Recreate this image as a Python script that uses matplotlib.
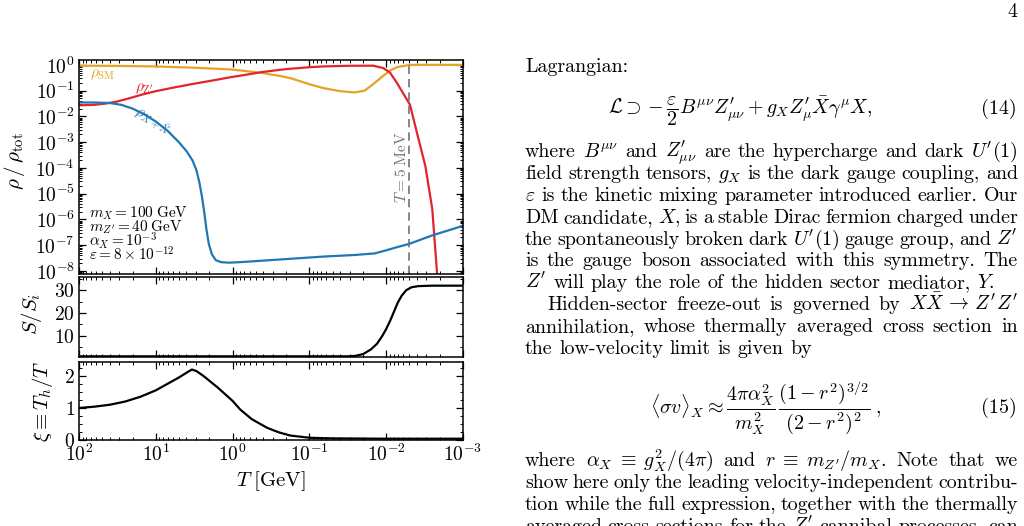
import re
import numpy as np
import matplotlib as mpl

mpl.use('agg')

import matplotlib.pyplot as plt
from matplotlib.ticker import LogLocator, FuncFormatter, MultipleLocator, NullFormatter

plt.rcParams['font.family'] = 'serif'
plt.rcParams['font.serif'] = ['cmr10']
plt.rcParams['mathtext.fontset'] = 'cm'
plt.rcParams['axes.formatter.use_mathtext'] = True
plt.rcParams['axes.unicode_minus'] = False

# ---- data (log10 T [GeV], value) ----
sm_logT  = [2.0, 1.5, 1.0, 0.5, 0.0, -0.35, -0.6, -0.75, -1.0, -1.18, -1.4, -1.59,
            -1.72, -1.83, -1.95, -2.05, -2.15, -2.31, -2.6, -3.0]
sm_logr  = [-0.03, -0.04, -0.06, -0.11, -0.18, -0.30, -0.42, -0.51, -0.75, -0.9, -1.02, -1.07,
            -1.0, -0.75, -0.45, -0.22, -0.08, 0.0, 0.0, 0.0]

zp_logT  = [2.0, 1.8, 1.65, 1.5, 1.35, 1.2, 1.0, 0.75, 0.5, 0.25, 0.03, -0.2, -0.38,
            -0.62, -0.75, -1.0, -1.18, -1.5, -1.83, -1.96, -2.05, -2.14, -2.22, -2.31,
            -2.40, -2.51, -2.60, -2.66, -2.68]
zp_logr  = [-1.57, -1.55, -1.50, -1.42, -1.30, -1.17, -1.02, -0.87, -0.73, -0.6, -0.48, -0.37, -0.28,
            -0.19, -0.15, -0.09, -0.06, -0.035, -0.03, -0.12, -0.3, -0.7, -1.1, -1.55,
            -2.63, -3.93, -5.6, -8.0, -9.0]

dm_logT  = [2.0, 1.8, 1.6, 1.45, 1.3, 1.15, 1.0, 0.85, 0.7, 0.6, 0.52, 0.47, 0.43, 0.40,
            0.37, 0.34, 0.31, 0.27, 0.22, 0.15, 0.05, -0.1, -0.4, -0.8, -1.2, -1.6,
            -1.85, -2.0, -2.15, -2.3, -2.6, -3.0]
dm_logr  = [-1.46, -1.46, -1.48, -1.55, -1.70, -1.92, -2.2, -2.55, -3.0, -3.35, -3.72, -4.1, -4.6, -5.1,
            -5.7, -6.4, -6.95, -7.35, -7.58, -7.66, -7.68, -7.66, -7.6, -7.52, -7.44, -7.38,
            -7.32, -7.2, -7.07, -6.95, -6.62, -6.25]

S_logT   = [2.0, -1.5, -1.6, -1.7, -1.8, -1.88, -1.95, -2.0, -2.05, -2.1, -2.15, -2.2,
            -2.26, -2.33, -2.42, -2.6, -3.0]
S_ratio  = [1, 1, 1.2, 2.0, 4.0, 6.5, 10, 13, 16.5, 20.5, 24.5, 27.5,
            30, 31.3, 31.8, 32, 32]

xi_logT  = [2.0, 1.8, 1.6, 1.4, 1.2, 1.0, 0.85, 0.7, 0.6, 0.53, 0.47, 0.38, 0.2, 0.0,
            -0.1, -0.25, -0.45, -0.6, -0.75, -1.0, -1.3, -2.0, -3.0]
xi_val   = [1.0, 1.04, 1.1, 1.2, 1.35, 1.55, 1.75, 1.95, 2.1, 2.2, 2.15, 2.0, 1.65, 1.22,
            0.95, 0.65, 0.38, 0.24, 0.14, 0.07, 0.05, 0.04, 0.04]

T_line = 5e-3  # 5 MeV

c_sm, c_zp, c_dm = '#e5a322', '#e0252b', '#1f77b4'

W, H = 1024, 526
fig = plt.figure(figsize=(W / 100, H / 100), dpi=100)


def box(l, t, r, b):
    return [l / W, 1 - b / H, (r - l) / W, (b - t) / H]


ax1 = fig.add_axes(box(79, 60, 463, 274))
ax2 = fig.add_axes(box(79, 277, 463, 357), sharex=ax1)
ax3 = fig.add_axes(box(79, 361.5, 463, 440), sharex=ax1)

T = lambda a: 10.0 ** np.array(a)

ax1.plot(T(sm_logT), T(sm_logr), color=c_sm, lw=1.6)
ax1.plot(T(zp_logT), T(zp_logr), color=c_zp, lw=1.6)
ax1.plot(T(dm_logT), T(dm_logr), color=c_dm, lw=1.6)
ax1.axvline(T_line, color='0.45', lw=1.2, ls=(0, (5, 3)))
ax1.set_yscale('log')
ax1.set_xscale('log')
ax1.set_xlim(1e2, 1e-3)
ax1.set_ylim(10 ** -8.12, 10 ** 0.19)

ax2.plot(T(S_logT), S_ratio, color='k', lw=1.6)
ax2.set_ylim(0.7, 35.8)

ax3.plot(T(xi_logT), xi_val, color='k', lw=1.6)
ax3.set_ylim(0, 2.45)

TICK_FS = 14
decfmt = FuncFormatter(lambda v, p: r'$10^{%d}$' % round(np.log10(v)))
for ax in (ax1, ax2, ax3):
    ax.tick_params(which='both', direction='in', top=True, right=True, labelsize=TICK_FS, pad=3)
    ax.tick_params(which='major', length=5, width=0.9)
    ax.tick_params(which='minor', length=2.5, width=0.7)
    ax.xaxis.set_major_locator(LogLocator(base=10, numticks=20))
    ax.xaxis.set_minor_locator(LogLocator(base=10, subs=np.arange(2, 10), numticks=100))
    for s in ax.spines.values():
        s.set_linewidth(1.1)
    if ax is not ax3:
        ax.tick_params(labelbottom=False)
ax3.xaxis.set_major_formatter(decfmt)
ax1.yaxis.set_major_locator(LogLocator(base=10, numticks=20))
ax1.yaxis.set_minor_locator(LogLocator(base=10, subs=np.arange(2, 10), numticks=100))
ax1.yaxis.set_major_formatter(decfmt)
ax1.yaxis.set_minor_formatter(NullFormatter())
ax2.yaxis.set_major_locator(MultipleLocator(10))
ax2.yaxis.set_minor_locator(MultipleLocator(5))
ax3.yaxis.set_major_locator(MultipleLocator(1))
ax3.yaxis.set_minor_locator(MultipleLocator(0.25))

LAB_FS = 15
ax1.set_ylabel(r'$\rho\,/\,\rho_{\rm tot}$', fontsize=LAB_FS)
ax1.yaxis.set_label_coords(-0.135, 0.53)
ax2.set_ylabel(r'$S/S_i$', fontsize=LAB_FS)
ax2.yaxis.set_label_coords(-0.09, 0.54)
ax3.set_ylabel(r'$\xi\equiv T_h/T$', fontsize=LAB_FS)
ax3.yaxis.set_label_coords(-0.0625, 0.5)
ax3.set_xlabel(r'$T\;[\mathrm{GeV}]$', fontsize=LAB_FS, labelpad=3)

ANN_FS = 11
ax1.text(0.029, 0.93, r'$\rho_{\rm SM}$', color=c_sm, fontsize=ANN_FS, transform=ax1.transAxes, va='center')
ax1.text(0.146, 0.865, r'$\rho_{\rm Z^{\prime}}$', color=c_zp, fontsize=ANN_FS, transform=ax1.transAxes, va='center')
ax1.text(0.19, 0.71, r'$\rho_{X+\bar{X}}$', color=c_dm, fontsize=ANN_FS, transform=ax1.transAxes,
         ha='center', va='center', rotation=-29)
ax1.text(0.839, 0.5, r'$T = 5\;\mathrm{MeV}$', color='0.45', fontsize=ANN_FS, transform=ax1.transAxes,
         ha='center', va='center', rotation=90)
params = [r'$m_X = 100\;\mathrm{GeV}$', r"$m_{Z^{\prime}} = 40\;\mathrm{GeV}$",
          r'$\alpha_X = 10^{-3}$', r'$\varepsilon = 8\times 10^{-12}$']
for i, s in enumerate(params):
    ax1.text(0.026, (274 - (213 + 14 * i)) / 214, s, fontsize=ANN_FS, transform=ax1.transAxes, va='center')

# ---- right column text ----
FS = 14.4
renderer = fig.canvas.get_renderer()


def words(s):
    # split on spaces that are not inside $...$
    return re.findall(r'(?:\$[^$]*\$|[^\s$])+', s)


def line(s, yb, x0=525, x1=1018, indent=0, last=False):
    toks = words(s)
    ts = [fig.text(0, 1 - yb / H, tk, fontsize=FS, va='baseline', ha='left') for tk in toks]
    ws = [t.get_window_extent(renderer).width for t in ts]
    if last or len(ts) == 1:
        gap = 6.6
    else:
        gap = (x1 - x0 - indent - sum(ws)) / (len(ts) - 1)
    x = x0 + indent
    for t, w in zip(ts, ws):
        t.set_x(x / W)
        x += w + gap


fig.text(1017 / W, 1 - 17 / H, '4', fontsize=FS, ha='right', va='baseline')
line('Lagrangian:', 72, last=True)
fig.text(608 / W, 1 - 114 / H,
         r"$\mathcal{L}\supset-\dfrac{\varepsilon}{2}B^{\mu\nu}Z^{\prime}_{\mu\nu}+g_XZ^{\prime}_{\mu}"
         r"\bar{X}\gamma^{\mu}X,$",
         fontsize=FS, va='baseline')
fig.text(1017 / W, 1 - 114 / H, '(14)', fontsize=FS, ha='right', va='baseline')

para1 = [
    "where $B^{\\mu\\nu}$ and $Z^{\\prime}_{\\mu\\nu}$ are the hypercharge and dark $U'(1)$",
    "field strength tensors, $g_X$ is the dark gauge coupling, and",
    "$\\varepsilon$ is the kinetic mixing parameter introduced earlier. Our",
    "DM candidate, $X$, is a stable Dirac fermion charged under",
    "the spontaneously broken dark $U'(1)$ gauge group, and $Z'$",
    "is the gauge boson associated with this symmetry. The",
    "$Z'$ will play the role of the hidden sector mediator, $Y$.",
    "Hidden-sector freeze-out is governed by $X\\bar{X}\\,\\to\\,Z'Z'$",
    "annihilation, whose thermally averaged cross section in",
    "the low-velocity limit is given by",
]
for i, s in enumerate(para1):
    line(s, 157 + 21.9 * i, indent=22 if i == 7 else 0, last=(i in (6, 9)))

fig.text(650 / W, 1 - 413 / H,
         r"$\langle\sigma v\rangle_X\approx\dfrac{4\pi\alpha_X^2}{m_X^2}\,\dfrac{(1-r^2)^{3/2}}{(2-r^2)^2}\;,$",
         fontsize=FS, va='baseline')
fig.text(1017 / W, 1 - 413 / H, '(15)', fontsize=FS, ha='right', va='baseline')

para2 = [
    "where $\\alpha_X\\;\\equiv\\;g_X^2/(4\\pi)$ and $r\\;\\equiv\\;m_{Z^{\\prime}}/m_X$. Note that we",
    "show here only the leading velocity-independent contribu-",
    "tion while the full expression, together with the thermally",
    "averaged cross sections for the $Z'$ cannibal processes, can",
]
for i, s in enumerate(para2):
    line(s, 466 + 21.9 * i)

fig.savefig('out.png', dpi=100)
